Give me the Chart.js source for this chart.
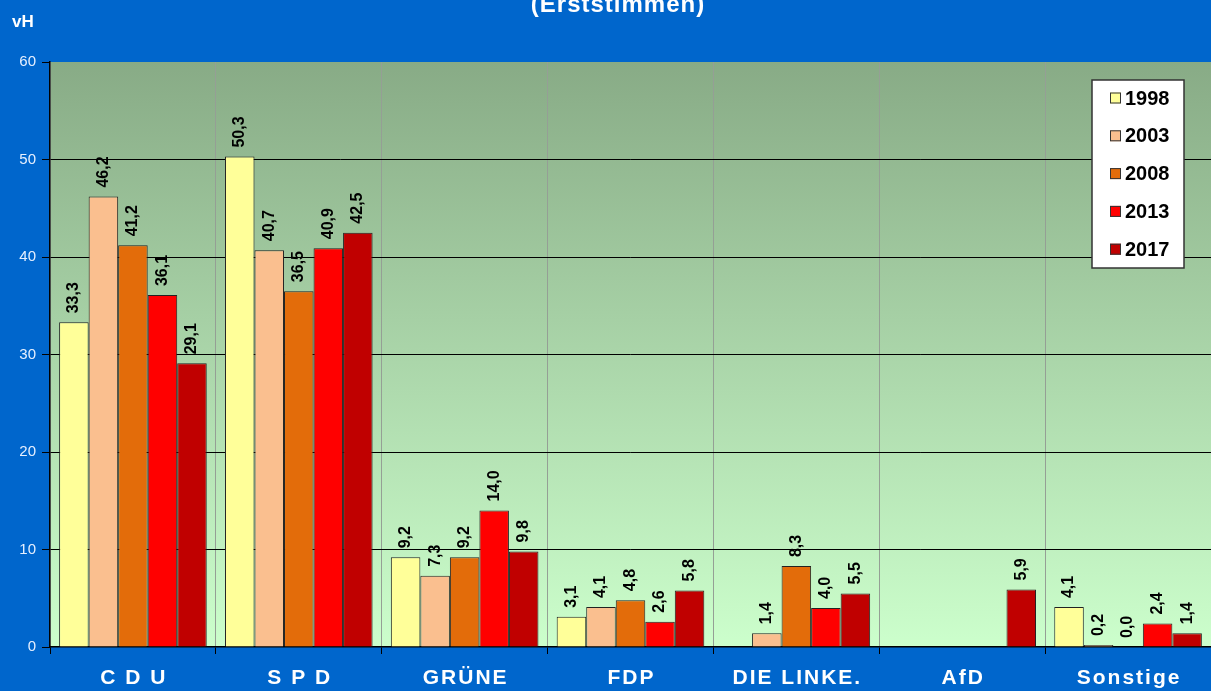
<!DOCTYPE html>
<html>
<head>
<meta charset="utf-8">
<script src="https://cdn.jsdelivr.net/npm/chart.js@4/dist/chart.umd.min.js"></script>
<style>
html,body{margin:0;padding:0;background:#0066CC;overflow:hidden;}
canvas{display:block;}
</style>
</head>
<body>
<canvas id="c" width="1211" height="691"></canvas>
<script>
const categories = ['C D U', 'S P D', 'GRÜNE', 'FDP', 'DIE LINKE.', 'AfD', 'Sonstige'];
const years = ['1998', '2003', '2008', '2013', '2017'];
const v1998 = [33.3, 50.3, 9.2, 3.1, null, null, 4.1];
const v2003 = [46.2, 40.7, 7.3, 4.1, 1.4, null, 0.2];
const v2008 = [41.2, 36.5, 9.2, 4.8, 8.3, null, 0.0];
const v2013 = [36.1, 40.9, 14.0, 2.6, 4.0, null, 2.4];
const v2017 = [29.1, 42.5, 9.8, 5.8, 5.5, 5.9, 1.4];
const yTicks = [0, 10, 20, 30, 40, 50, 60];
const titleText = '(Erststimmen)';
const unitText = 'vH';

const colors = ['#FFFF99', '#FABF8F', '#E36C0A', '#FF0000', '#C00000'];
const seriesValues = [v1998, v2003, v2008, v2013, v2017];
const FONT = '"Liberation Sans", Arial, sans-serif';

const bgPlugin = {
  id: 'bg',
  beforeDraw(chart) {
    const {ctx, chartArea: a} = chart;
    ctx.save();
    ctx.fillStyle = '#0066CC';
    ctx.fillRect(0, 0, chart.width, chart.height);
    const g = ctx.createLinearGradient(0, a.top, 0, a.bottom);
    g.addColorStop(0, '#88AB86');
    g.addColorStop(1, '#CCFFCC');
    ctx.fillStyle = g;
    ctx.fillRect(a.left, a.top, a.right - a.left, a.bottom - a.top);
    ctx.restore();
  }
};

const labelPlugin = {
  id: 'labels',
  afterDatasetsDraw(chart) {
    const ctx = chart.ctx;
    ctx.save();
    ctx.fillStyle = '#000';
    ctx.font = 'bold 16px ' + FONT;
    ctx.textAlign = 'left';
    ctx.textBaseline = 'middle';
    chart.data.datasets.forEach((ds, di) => {
      const meta = chart.getDatasetMeta(di);
      meta.data.forEach((el, i) => {
        const v = ds.data[i];
        if (v === null || v === undefined) return;
        ctx.save();
        ctx.translate(el.x, el.y - 9);
        ctx.rotate(-Math.PI / 2);
        ctx.fillText(v.toFixed(1).replace('.', ','), 0, 0);
        ctx.restore();
      });
    });
    ctx.restore();
  },
  afterDraw(chart) {
    const ctx = chart.ctx;
    const xs = chart.scales.x;
    ctx.save();
    ctx.fillStyle = '#FFFFFF';
    // category labels
    ctx.font = 'bold 21px ' + FONT;
    ctx.letterSpacing = '2px';
    ctx.textAlign = 'center';
    ctx.textBaseline = 'alphabetic';
    categories.forEach((c, i) => {
      ctx.fillText(c, xs.getPixelForValue(i) + 1, 684);
    });
    // title
    ctx.font = 'bold 24px ' + FONT;
    ctx.letterSpacing = '1px';
    ctx.fillText(titleText, 618, 12);
    ctx.letterSpacing = '0px';
    // unit
    ctx.textAlign = 'left';
    ctx.font = 'bold 17px ' + FONT;
    ctx.fillText(unitText, 12, 27);
    // legend
    const lx = 1092, ly = 80, lw = 92, lh = 188;
    ctx.fillStyle = '#FFFFFF';
    ctx.fillRect(lx, ly, lw, lh);
    ctx.strokeStyle = '#333';
    ctx.lineWidth = 1.5;
    ctx.strokeRect(lx, ly, lw, lh);
    ctx.font = 'bold 20px ' + FONT;
    ctx.textBaseline = 'middle';
    chart.data.datasets.forEach((ds, i) => {
      const cy = 98 + i * 37.8;
      ctx.fillStyle = ds.backgroundColor;
      ctx.fillRect(1110, cy - 5.5, 11, 11);
      ctx.strokeStyle = '#333';
      ctx.lineWidth = 1;
      ctx.strokeRect(1110.5, cy - 5, 10, 10);
      ctx.fillStyle = '#000';
      ctx.fillText(ds.label, 1125, cy + 1);
    });
    ctx.restore();
  }
};

new Chart(document.getElementById('c'), {
  type: 'bar',
  data: {
    labels: categories,
    datasets: years.map((y, i) => ({
      label: y,
      data: seriesValues[i],
      backgroundColor: colors[i],
      borderColor: '#222',
      borderWidth: 1,
      borderSkipped: 'bottom',
      categoryPercentage: 0.89,
      barPercentage: 1.0
    }))
  },
  options: {
    responsive: false,
    animation: false,
    layout: {padding: {top: 62, left: 0, right: 0, bottom: 0}},
    plugins: {legend: {display: false}, title: {display: false}, tooltip: {enabled: false}},
    scales: {
      x: {
        offset: true,
        grid: {
          offset: true,
          color: '#959F95',
          lineWidth: 1,
          drawTicks: true,
          tickLength: 7,
          tickColor: '#000'
        },
        border: {display: true, color: '#000', width: 1.5},
        ticks: {display: false},
        afterFit(s) { s.height = 44; }
      },
      y: {
        min: 0,
        max: 60,
        afterBuildTicks(s) { s.ticks = yTicks.map(v => ({value: v})); },
        grid: {
          color: (c) => (c.tick && (c.tick.value === 60 || c.tick.value === 0)) ? 'rgba(0,0,0,0)' : '#000',
          lineWidth: 1,
          tickLength: 8,
          tickColor: '#000'
        },
        border: {display: true, color: '#000', width: 1.5},
        ticks: {
          color: '#E6F0FF',
          font: {family: FONT, size: 15},
          padding: 6
        },
        afterFit(s) { s.width = 50; }
      }
    }
  },
  plugins: [bgPlugin, labelPlugin]
});
</script>
</body>
</html>
